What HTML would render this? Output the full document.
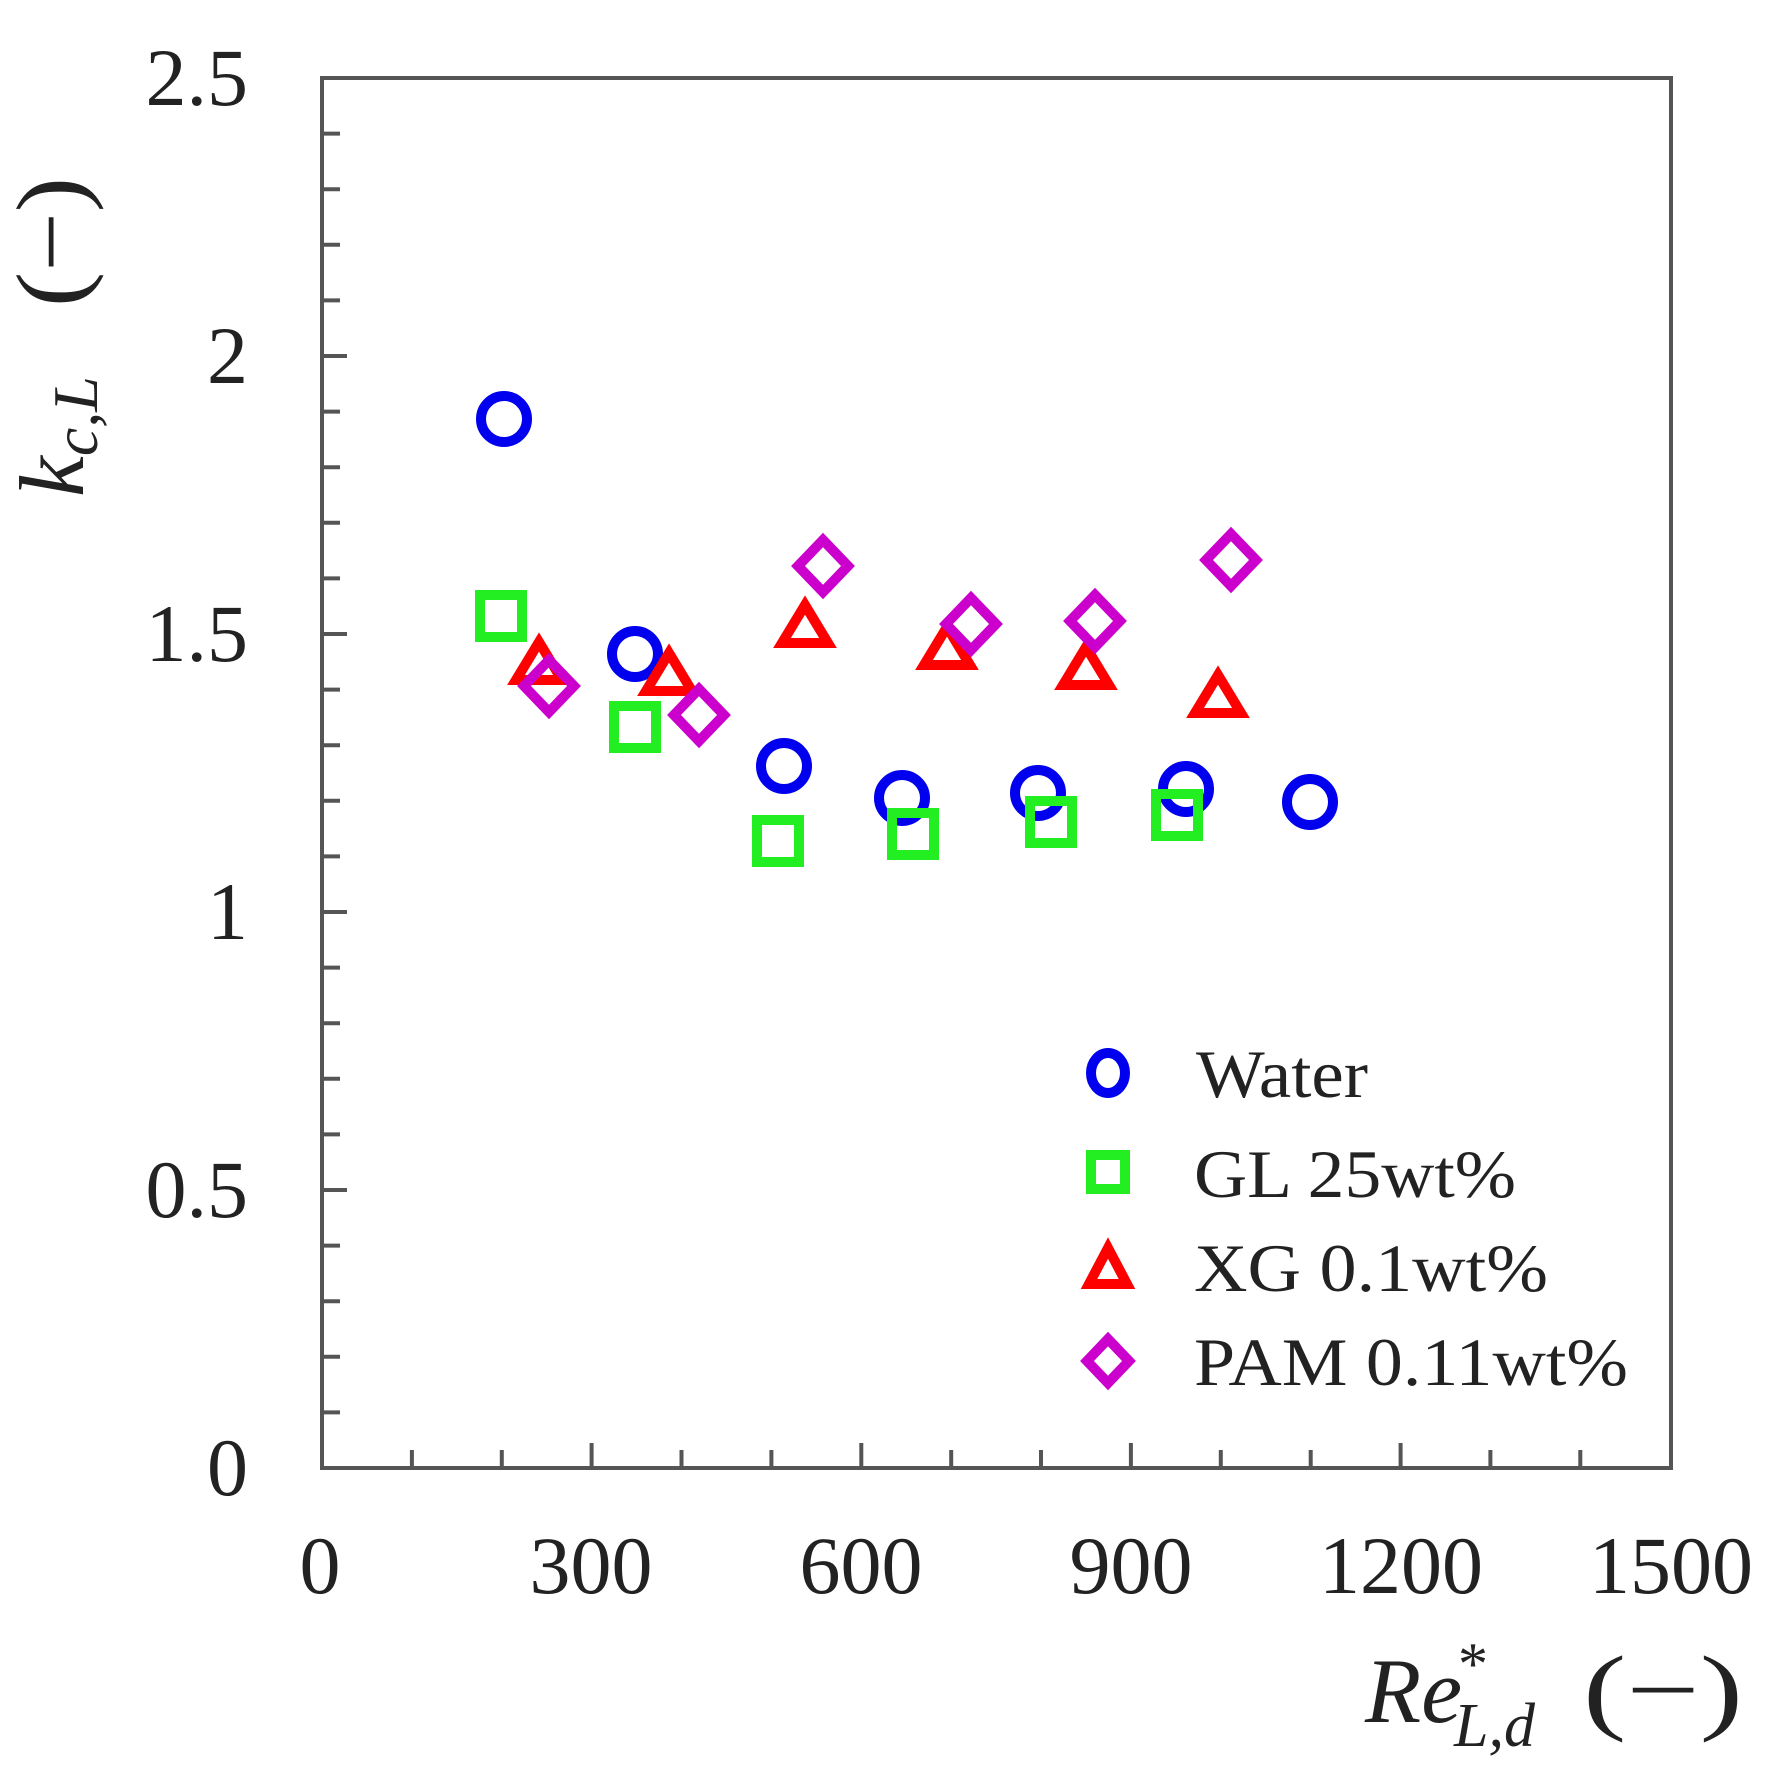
<!DOCTYPE html>
<html><head><meta charset="utf-8"><style>
html,body{margin:0;padding:0;background:#fff;}
svg{display:block;}
text{font-family:"Liberation Serif",serif;fill:#222;}
</style></head><body>
<svg width="1790" height="1786" viewBox="0 0 1790 1786" xmlns="http://www.w3.org/2000/svg">
<rect width="1790" height="1786" fill="#fff"/>
<g stroke="#555" stroke-width="4" fill="none">
<rect x="322" y="78" width="1349" height="1390"/>
<path d="M411.9 1468v-18M501.8 1468v-18M591.6 1468v-25M681.5 1468v-18M771.4 1468v-18M861.3 1468v-25M951.2 1468v-18M1041 1468v-18M1130.9 1468v-25M1220.8 1468v-18M1310.7 1468v-18M1400.6 1468v-25M1490.4 1468v-18M1580.3 1468v-18"/>
<path d="M322 1412.4h18M322 1356.8h18M322 1301.2h18M322 1245.6h18M322 1190h25M322 1134.4h18M322 1078.8h18M322 1023.2h18M322 967.6h18M322 912h25M322 856.4h18M322 800.8h18M322 745.2h18M322 689.6h18M322 634h25M322 578.4h18M322 522.8h18M322 467.2h18M322 411.6h18M322 356h25M322 300.4h18M322 244.8h18M322 189.2h18M322 133.6h18"/>
</g>
<g font-size="82" text-anchor="end">
<text x="248" y="1495">0</text>
<text x="248" y="1217">0.5</text>
<text x="248" y="939">1</text>
<text x="248" y="661">1.5</text>
<text x="248" y="383">2</text>
<text x="248" y="105">2.5</text>
</g>
<g font-size="82" text-anchor="middle">
<text x="320" y="1593">0</text>
<text x="591" y="1593">300</text>
<text x="861" y="1593">600</text>
<text x="1131" y="1593">900</text>
<text x="1401" y="1593">1200</text>
<text x="1671" y="1593">1500</text>
</g>
<g transform="translate(83,497) rotate(-90)">
<text x="0" y="0" font-size="92"><tspan font-style="italic">k</tspan><tspan font-style="italic" font-size="64" dy="14">c,L</tspan></text>
<text x="190" y="0" font-size="96" textLength="130" lengthAdjust="spacingAndGlyphs">(−)</text>
</g>
<text x="1365" y="1722" font-size="92"><tspan font-style="italic">Re</tspan><tspan font-size="60" dy="-38" dx="-4">*</tspan><tspan font-style="italic" font-size="62" dx="-34" dy="62">L,d</tspan></text>
<text x="1583" y="1722" font-size="96" textLength="160" lengthAdjust="spacingAndGlyphs">(−)</text>
<g fill="none" stroke="#0000ee" stroke-width="10">
<circle cx="504" cy="419" r="23"/><circle cx="635" cy="654" r="23"/><circle cx="784" cy="766" r="23"/>
<circle cx="902" cy="798" r="23"/><circle cx="1038" cy="793" r="23"/><circle cx="1186" cy="789" r="23"/><circle cx="1310" cy="802" r="23"/>
<ellipse cx="1108" cy="1073" rx="17" ry="20"/>
</g>
<g fill="none" stroke="#22ee22" stroke-width="10">
<rect x="480" y="595" width="42" height="42"/><rect x="614" y="706" width="42" height="42"/><rect x="757" y="820" width="42" height="42"/>
<rect x="892" y="813" width="42" height="42"/><rect x="1030" y="801" width="42" height="42"/><rect x="1156" y="794" width="42" height="42"/>
<rect x="1091" y="1155" width="34" height="34"/>
</g>
<g fill="none" stroke="#ff0000" stroke-width="10">
<path d="M539 642L562 680H516Z"/><path d="M669 653L692 691H646Z"/><path d="M805 605L828 643H782Z"/>
<path d="M947 627L970 665H924Z"/><path d="M1086 647L1109 685H1063Z"/><path d="M1218 675L1241 713H1195Z"/>
<path d="M1108 1248L1127 1284H1089Z"/>
</g>
<g fill="none" stroke="#cc00cc" stroke-width="10">
<path d="M549 660L574 686L549 712L524 686Z"/><path d="M699 689L724 715L699 741L674 715Z"/><path d="M823 540L848 566L823 592L798 566Z"/>
<path d="M971 598L996 624L971 650L946 624Z"/><path d="M1095 595L1120 621L1095 647L1070 621Z"/><path d="M1231 534L1256 560L1231 586L1206 560Z"/>
<path d="M1108 1339L1129 1361L1108 1383L1087 1361Z"/>
</g>
<g font-size="68">
<text x="1196" y="1097" textLength="172" lengthAdjust="spacingAndGlyphs">Water</text>
<text x="1194" y="1197" textLength="322" lengthAdjust="spacingAndGlyphs">GL 25wt%</text>
<text x="1194" y="1291" textLength="354" lengthAdjust="spacingAndGlyphs">XG 0.1wt%</text>
<text x="1194" y="1385" textLength="434" lengthAdjust="spacingAndGlyphs">PAM 0.11wt%</text>
</g>
</svg>
</body></html>
